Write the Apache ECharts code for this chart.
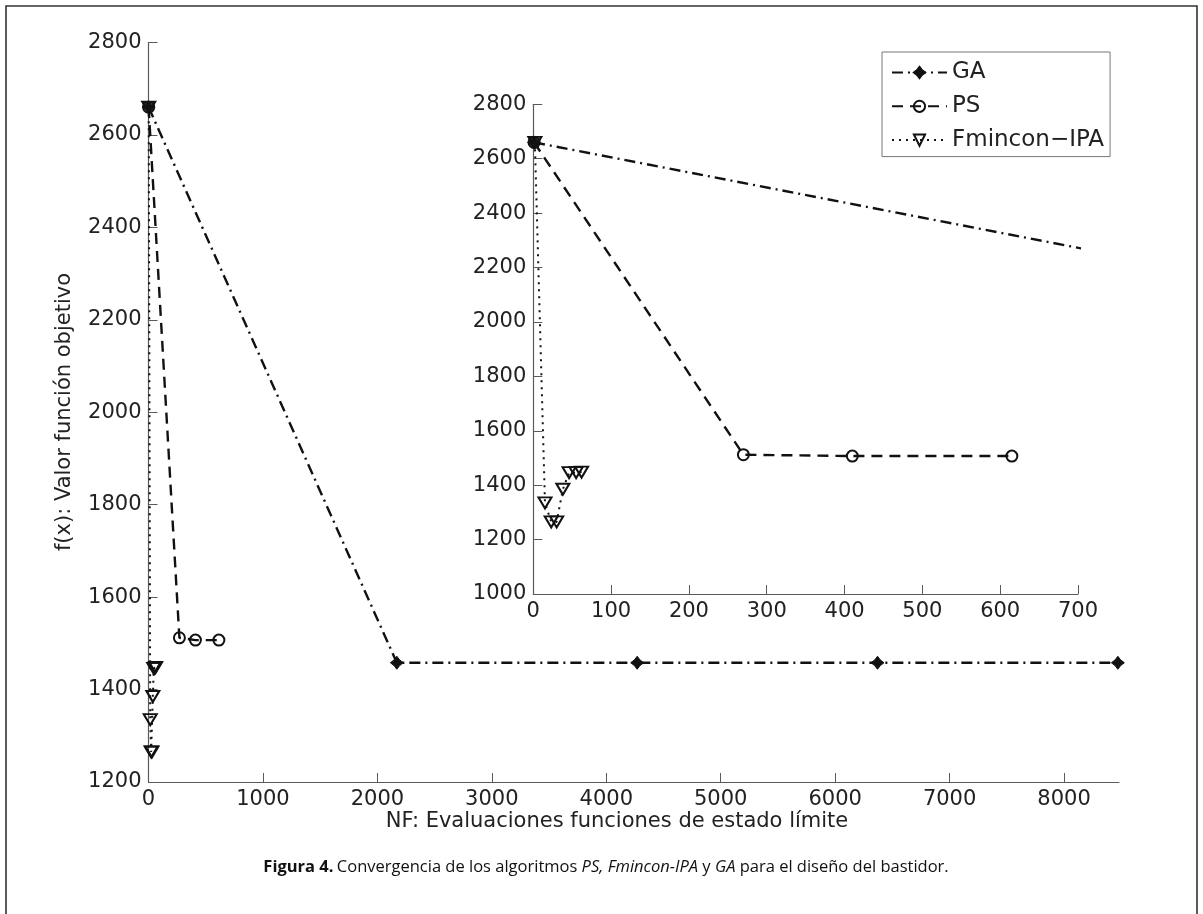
<!DOCTYPE html>
<html>
<head>
<meta charset="utf-8">
<script src="https://cdn.jsdelivr.net/npm/echarts@6/dist/echarts.min.js"></script>
<style>
html,body{margin:0;padding:0;background:#fff;}
#c{width:1203px;height:914px;}
</style>
</head>
<body>
<div id="c"></div>
<script>
// ---- data ----
const seriesNames = ['GA', 'PS', 'Fmincon\u2212IPA'];
const gaX = [1, 2170, 4270, 6370, 8470];
const gaY = [2660, 1458, 1458, 1458, 1458];
const psX = [1, 270, 410, 615];
const psY = [2660, 1512, 1507, 1507];
const fmX = [2, 15, 23, 30, 38, 46, 55, 62];
const fmY = [2660, 1335, 1265, 1265, 1385, 1446, 1446, 1448];

const mainXTicks = [0, 1000, 2000, 3000, 4000, 5000, 6000, 7000, 8000];
const mainYTicks = [1200, 1400, 1600, 1800, 2000, 2200, 2400, 2600, 2800];
const insetXTicks = [0, 100, 200, 300, 400, 500, 600, 700];
const insetYTicks = [1000, 1200, 1400, 1600, 1800, 2000, 2200, 2400, 2600, 2800];
const mainXRange = [0, 8480];
const mainYRange = [1200, 2800];
const insetXRange = [0, 700];
const insetYRange = [1000, 2800];

const xLabelText = 'NF: Evaluaciones funciones de estado l\u00edmite';
const yLabelText = 'f(x): Valor funci\u00f3n objetivo';

// ---- styling ----
const FONT = 'DejaVu Sans';
const CAPFONT = 'Open Sans';
const AX = '#5a5a5a';
const TXT = '#222';
const pair = (xs, ys) => xs.map((x, i) => [x, ys[i]]);

function axisCommon(ticks, range) {
  return {
    type: 'value', min: range[0], max: range[1],
    axisLine: {show: true, lineStyle: {color: AX, width: 1.2}},
    axisTick: {show: true, inside: true, length: 9, lineStyle: {color: AX, width: 1}, customValues: ticks},
    axisLabel: {color: TXT, fontSize: 21, fontFamily: FONT, customValues: ticks, margin: 7,
      formatter: v => String(v)},
    splitLine: {show: false}
  };
}

const gaSymbol = 'path://M0,-6L2.6,-2.6L6,0L2.6,2.6L0,6L-2.6,2.6L-6,0L-2.6,-2.6Z';

function makeSeries(gi) {
  return [
    {
      name: seriesNames[0], type: 'line', xAxisIndex: gi, yAxisIndex: gi,
      data: pair(gaX, gaY), symbol: gaSymbol, symbolSize: 13, symbolKeepAspect: true,
      itemStyle: {color: '#111', borderColor: '#111', borderWidth: 1},
      lineStyle: {color: '#111', width: 2.4, type: [11, 5, 2, 5]},
      clip: true, animation: false, z: 3
    },
    {
      name: seriesNames[1], type: 'line', xAxisIndex: gi, yAxisIndex: gi,
      data: pair(psX, psY), symbol: 'circle', symbolSize: 11,
      itemStyle: {color: 'rgba(0,0,0,0)', borderColor: '#111', borderWidth: 2},
      lineStyle: {color: '#111', width: 2.4, type: [11, 7]},
      clip: true, animation: false, z: 2
    },
    {
      name: seriesNames[2], type: 'line', xAxisIndex: gi, yAxisIndex: gi,
      data: pair(fmX, fmY), symbol: 'triangle', symbolRotate: 180, symbolSize: [13, 11],
      itemStyle: {color: 'rgba(0,0,0,0)', borderColor: '#111', borderWidth: 2},
      lineStyle: {color: '#111', width: 2, type: [2, 5]},
      clip: true, animation: false, z: 2
    }
  ];
}

const chart = echarts.init(document.getElementById('c'), null, {renderer: 'canvas'});
chart.setOption({
  animation: false,
  backgroundColor: '#fff',
  grid: [
    {left: 148.5, top: 42.5, width: 970.5, height: 739.5},
    {left: 533.3, top: 104.3, width: 544.7, height: 489.7}
  ],
  xAxis: [
    Object.assign(axisCommon(mainXTicks, mainXRange), {gridIndex: 0}),
    Object.assign(axisCommon(insetXTicks, insetXRange), {gridIndex: 1})
  ],
  yAxis: [
    Object.assign(axisCommon(mainYTicks, mainYRange), {gridIndex: 0}),
    Object.assign(axisCommon(insetYTicks, insetYRange), {gridIndex: 1})
  ],
  legend: {
    orient: 'vertical', left: 882, top: 52,
    data: seriesNames,
    backgroundColor: '#fff', borderColor: '#777', borderWidth: 1,
    padding: [9, 6, 5, 9],
    itemWidth: 55, itemHeight: 14, itemGap: 10.8,
    textStyle: {color: TXT, fontSize: 23, fontFamily: FONT, lineHeight: 22},
    selectedMode: false
  },
  series: [].concat(makeSeries(0), makeSeries(1)),
  graphic: [
    {type: 'rect', shape: {x: 6, y: 6, width: 1191, height: 920}, style: {fill: 'none', stroke: '#333', lineWidth: 1.6}, silent: true, z: -10},
    {type: 'text', x: 617, y: 822, style: {text: xLabelText, fill: TXT, font: '21px "DejaVu Sans"', align: 'center', verticalAlign: 'middle'}},
    {type: 'text', x: 64.5, y: 412, rotation: Math.PI / 2, style: {text: yLabelText, fill: TXT, font: '21px "DejaVu Sans"', align: 'center', verticalAlign: 'middle'}},
    {type: 'text', x: 606, y: 867, style: {
      text: '{b|Figura 4.} {n|Convergencia de los algoritmos }{i|PS, Fmincon-IPA}{n| y }{i|GA}{n| para el dise\u00f1o del bastidor.}',
      align: 'center', verticalAlign: 'middle',
      rich: {
        b: {fontFamily: CAPFONT, fontSize: 16.5, fontWeight: 'bold', fill: '#111'},
        n: {fontFamily: CAPFONT, fontSize: 16.5, fill: '#111'},
        i: {fontFamily: CAPFONT, fontSize: 16.5, fontStyle: 'italic', fill: '#111'}
      }
    }}
  ]
});
</script>
</body>
</html>
